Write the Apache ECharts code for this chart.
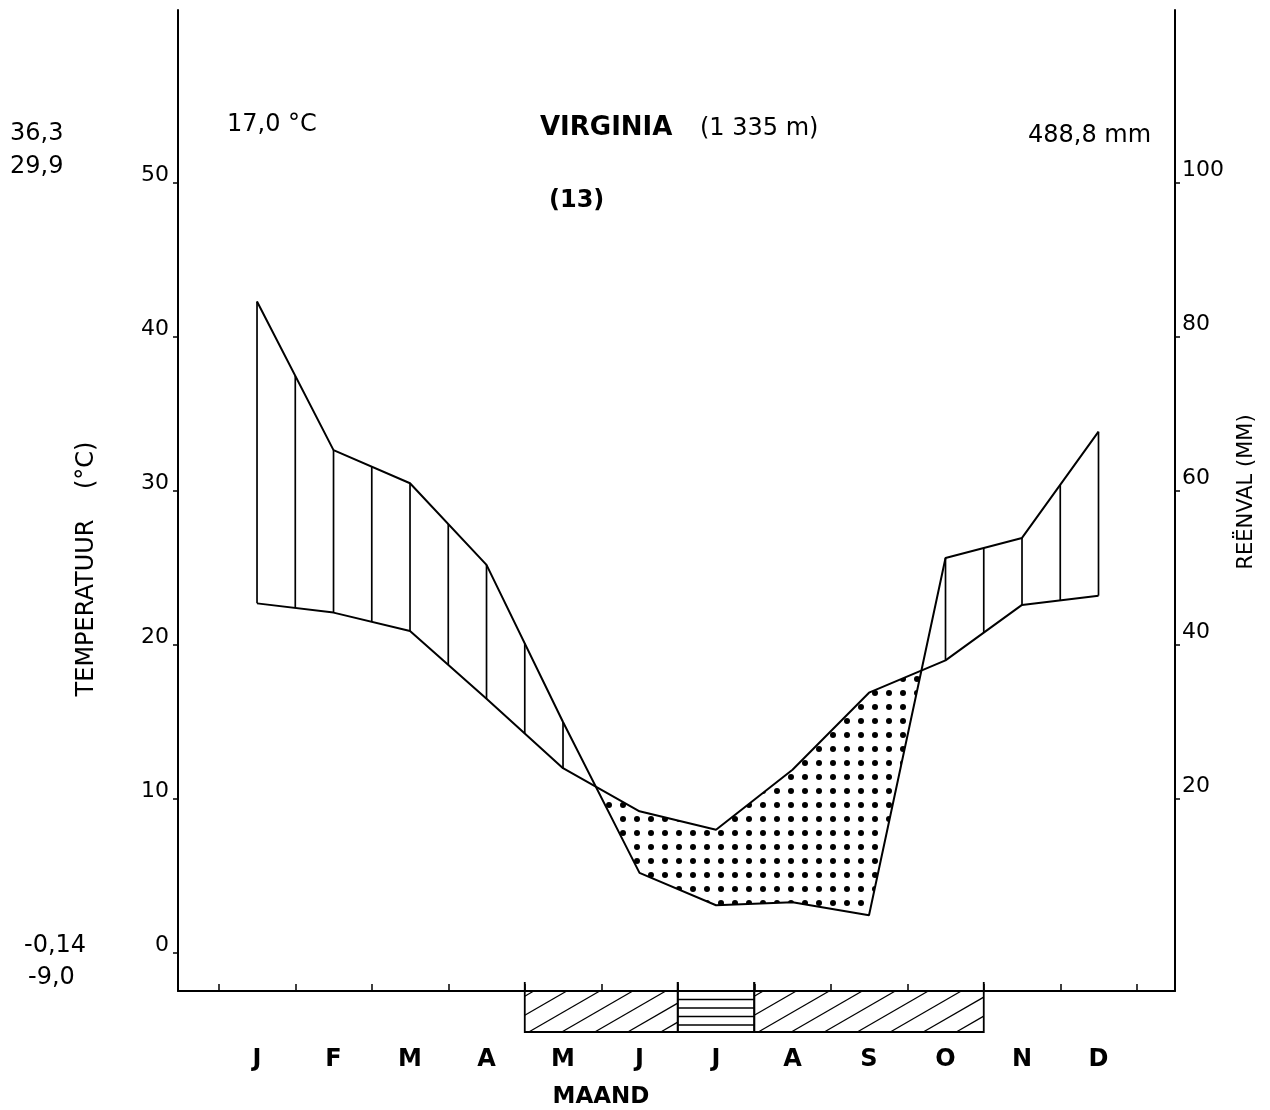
<!DOCTYPE html>
<html><head><meta charset="utf-8">
<script src="https://cdn.jsdelivr.net/npm/echarts@6/dist/echarts.min.js"></script>
<style>html,body{margin:0;padding:0;background:#fff}#c{width:1270px;height:1110px}</style>
</head><body><div id="c"></div>
<script>
// ---- data ----
const months = ['J','F','M','A','M','J','J','A','S','O','N','D'];
const temperature = [22.7, 22.1, 20.9, 16.5, 12.0, 9.2, 8.0, 11.9, 16.9, 19.0, 22.6, 23.2];      // °C
const precipitation = [84.6, 65.3, 61.0, 50.4, 30.0, 10.4, 6.2, 6.6, 4.9, 51.3, 53.9, 67.7];     // mm
const tempTicks = [0, 10, 20, 30, 40, 50];
const precipTicks = [20, 40, 60, 80, 100];
const probableFrostMonths = [4, 5, 7, 8, 9];   // May, Jun, Aug, Sep, Oct
const absoluteFrostMonths = [6];               // Jul
const stationName = 'VIRGINIA';
const altitudeText = '(1 335 m)';
const stationNo = '(13)';
const meanTempText = '17,0 °C';
const annualPrecipText = '488,8 mm';
const sideNumbersTop = ['36,3', '29,9'];
const sideNumbersBottom = ['-0,14', '-9,0'];

// ---- scale setup ----
const MM_PER_DEG = 2;
const Y_MIN = -2.47, Y_MAX = 61.23;
const X_MIN = -1.033, X_MAX = 12.0;
const FONT = '"DejaVu Sans", "Liberation Sans", Arial, sans-serif';

const dotCanvas = document.createElement('canvas');
dotCanvas.width = 14; dotCanvas.height = 14;
(function(){ const g = dotCanvas.getContext('2d'); g.fillStyle = '#000'; g.beginPath(); g.arc(7, 7, 3, 0, Math.PI*2); g.fill(); })();

function runs(list) {
  const s = list.slice().sort((a,b)=>a-b), out = [];
  s.forEach(i => { const r = out[out.length-1]; if (r && r.end === i-1) r.end = i; else out.push({start:i, end:i}); });
  return out;
}

function renderItem(params, api) {
  const children = [];
  const n = months.length;
  const T = temperature, P = precipitation.map(v => v / MM_PER_DEG);
  const lerp = (arr, x) => { const i = Math.min(Math.floor(x), n - 2); const t = x - i; return arr[i] + (arr[i+1] - arr[i]) * t; };

  // dry season polygons (precipitation below temperature)
  const polys = []; let cur = null;
  for (let i = 0; i < n; i++) {
    const d = T[i] - P[i];
    if (d > 0) { if (!cur) cur = {up: [], lo: []}; cur.up.push([i, T[i]]); cur.lo.push([i, P[i]]); }
    if (i < n - 1) {
      const dn = T[i+1] - P[i+1];
      if ((d > 0) !== (dn > 0)) {
        const t = d / (d - dn), x = i + t, y = T[i] + t * (T[i+1] - T[i]);
        if (!cur) cur = {up: [[x, y]], lo: [[x, y]]};
        else { cur.up.push([x, y]); cur.lo.push([x, y]); polys.push(cur); cur = null; }
      }
    }
  }
  if (cur) polys.push(cur);
  polys.forEach(pl => {
    const pts = pl.up.concat(pl.lo.slice().reverse()).map(q => api.coord(q));
    children.push({type: 'polygon', shape: {points: pts}, style: {fill: {image: dotCanvas, repeat: 'repeat'}, stroke: null}});
  });

  // humid season vertical hatching (every half month)
  for (let k = 0; k <= 2 * (n - 1); k++) {
    const x = k / 2, tv = lerp(T, x), pv = lerp(P, x);
    if (pv > tv) {
      const a = api.coord([x, tv]), b = api.coord([x, pv]);
      children.push({type: 'line', shape: {x1: a[0], y1: a[1], x2: b[0], y2: b[1]}, style: {stroke: '#000', lineWidth: 1.7}});
    }
  }

  // frost bar below the month axis
  const y0 = api.coord([0, Y_MIN])[1], h = 41, y1 = y0 + h;
  const drawRun = (r, kind) => {
    const xl = api.coord([r.start - 0.5, 0])[0], xr = api.coord([r.end + 0.5, 0])[0];
    if (kind === 'abs') {
      for (let j = 1; j <= 4; j++) {
        const yy = y0 + 8.5 * j;
        children.push({type: 'line', shape: {x1: xl, y1: yy, x2: xr, y2: yy}, style: {stroke: '#000', lineWidth: 1.3}});
      }
    } else {
      const dx = h / Math.tan(Math.PI / 6), step = 33;
      for (let c = xl + 4 - 4 * step; c < xr; c += step) {
        const tmin = Math.max(0, (xl - c) / dx), tmax = Math.min(1, (xr - c) / dx);
        if (tmin < tmax) children.push({type: 'line', shape: {x1: c + tmin*dx, y1: y1 - tmin*h, x2: c + tmax*dx, y2: y1 - tmax*h}, style: {stroke: '#000', lineWidth: 1.3}});
      }
    }
    children.push({type: 'polyline', shape: {points: [[xl, y0 - 9], [xl, y1], [xr, y1], [xr, y0 - 9]]}, style: {fill: null, stroke: '#000', lineWidth: 1.8}});
  };
  runs(probableFrostMonths).forEach(r => drawRun(r, 'prob'));
  runs(absoluteFrostMonths).forEach(r => drawRun(r, 'abs'));

  return {type: 'group', children};
}

const chart = echarts.init(document.getElementById('c'), null, {renderer: 'canvas'});
const txt = (text, x, y, size, weight, align) => ({type: 'text', x, y, style: {text, font: `${weight||'normal'} ${size}px ${FONT}`, fill: '#000', align: align || 'left', verticalAlign: 'middle'}});

chart.setOption({
  animation: false,
  backgroundColor: '#fff',
  grid: {left: 178, right: 95, top: 10, bottom: 119},
  xAxis: {
    type: 'value', min: X_MIN, max: X_MAX,
    axisLine: {show: true, onZero: false, lineStyle: {color: '#000', width: 2}},
    axisTick: {show: true, inside: true, length: 7, customValues: months.map((m, i) => i - 0.5).concat([months.length - 0.5]), lineStyle: {color: '#000', width: 1.5}},
    axisLabel: {customValues: months.map((m, i) => i), formatter: v => months[Math.round(v)], color: '#000', fontFamily: FONT, fontSize: 24, fontWeight: 'bold', margin: 57, lineHeight: 24},
    splitLine: {show: false}
  },
  yAxis: [{
    type: 'value', min: Y_MIN, max: Y_MAX, position: 'left',
    axisLine: {show: true, onZero: false, lineStyle: {color: '#000', width: 2}},
    axisTick: {show: true, length: 5, customValues: tempTicks, lineStyle: {color: '#000', width: 1.5}},
    axisLabel: {customValues: tempTicks, color: '#000', fontFamily: FONT, fontSize: 22, margin: 9, verticalAlign: 'bottom', lineHeight: 16},
    splitLine: {show: false}
  }, {
    type: 'value', min: Y_MIN * MM_PER_DEG, max: Y_MAX * MM_PER_DEG, position: 'right',
    axisLine: {show: true, onZero: false, lineStyle: {color: '#000', width: 2}},
    axisTick: {show: true, length: 5, customValues: precipTicks, lineStyle: {color: '#000', width: 1.5}},
    axisLabel: {customValues: precipTicks, color: '#000', fontFamily: FONT, fontSize: 22, margin: 7, verticalAlign: 'bottom', lineHeight: 26},
    splitLine: {show: false}
  }],
  series: [{
    type: 'custom', coordinateSystem: 'cartesian2d', renderItem, data: [[0, 0]], clip: false, z: 1, silent: true
  }, {
    name: 'Temperatuur', type: 'line', yAxisIndex: 0, data: temperature.map((v, i) => [i, v]),
    showSymbol: false, lineStyle: {color: '#000', width: 2}, z: 3
  }, {
    name: 'Reënval', type: 'line', yAxisIndex: 1, data: precipitation.map((v, i) => [i, v]),
    showSymbol: false, lineStyle: {color: '#000', width: 2}, z: 3
  }],
  graphic: [
    txt(sideNumbersTop[0], 10, 134, 24),
    txt(sideNumbersTop[1], 10, 167, 24),
    txt(sideNumbersBottom[0], 24, 946, 24),
    txt(sideNumbersBottom[1], 28, 978, 24),
    txt(meanTempText, 227, 125, 24),
    txt(stationName, 540, 128, 26, 'bold'),
    txt(altitudeText, 700, 129, 24),
    txt(stationNo, 549, 201, 24, 'bold'),
    txt(annualPrecipText, 1028, 136, 24),
    txt('MAAND', 601, 1097, 23, 'bold', 'center'),
    {type: 'text', x: 87, y: 569, rotation: Math.PI / 2, style: {text: 'TEMPERATUUR    (°C)', font: `normal 24px ${FONT}`, fill: '#000', align: 'center', verticalAlign: 'middle'}},
    {type: 'text', x: 1247, y: 492, rotation: Math.PI / 2, style: {text: 'REËNVAL (MM)', font: `normal 21px ${FONT}`, fill: '#000', align: 'center', verticalAlign: 'middle'}}
  ]
});
</script>
</body></html>
